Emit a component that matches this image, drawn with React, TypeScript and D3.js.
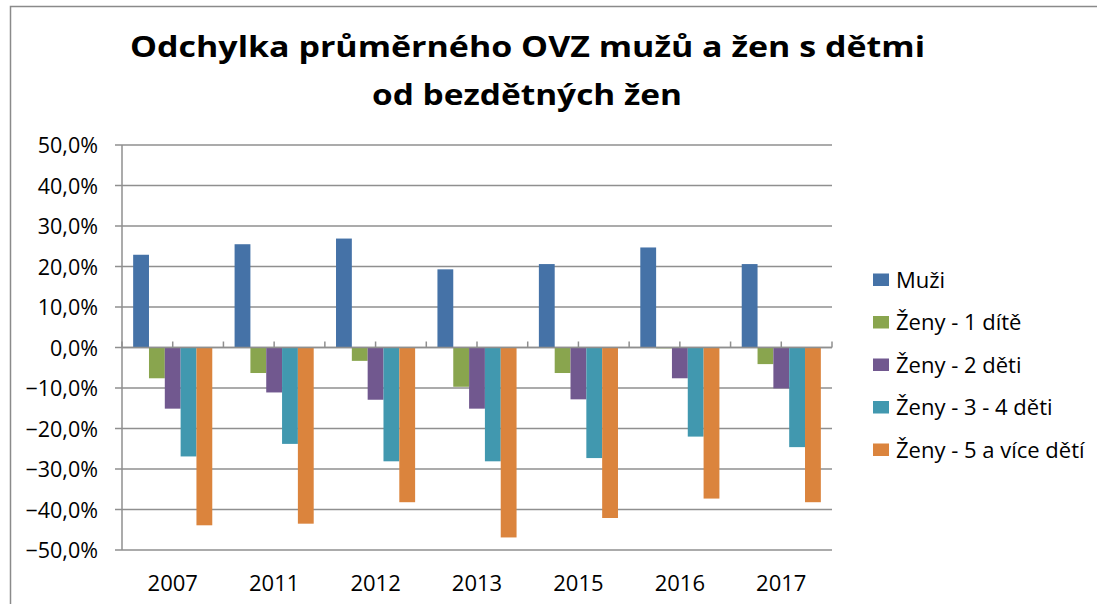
import React from "react";
import * as d3 from "d3";

const years = ["2007", "2011", "2012", "2013", "2015", "2016", "2017"];
const seriesNames = [
  "Muži",
  "Ženy - 1 dítě",
  "Ženy - 2 děti",
  "Ženy - 3 - 4 děti",
  "Ženy - 5 a více dětí",
];
const muzi = [22.9, 25.5, 26.9, 19.3, 20.6, 24.7, 20.6];
const zeny1 = [-7.6, -6.3, -3.3, -9.7, -6.3, -0.2, -4.1];
const zeny2 = [-15.1, -11.1, -12.9, -15.1, -12.8, -7.6, -10.1];
const zeny34 = [-26.9, -23.8, -28.1, -28.1, -27.3, -22.0, -24.6];
const zeny5 = [-43.9, -43.5, -38.2, -46.9, -42.1, -37.3, -38.2];
const yTicks = [50, 40, 30, 20, 10, 0, -10, -20, -30, -40, -50];
const colors = ["#4572A7", "#89A54E", "#71588F", "#4198AF", "#DB843D"];
const titleLines = ["Odchylka  průměrného  OVZ mužů  a žen s dětmi", "od bezdětných žen"];

const FONT = "'Open Sans', Lato, sans-serif";

export default function App() {
  const W = 1097;
  const H = 604;
  const left = 122;
  const right = 832;
  const top = 145;
  const bottom = 550;
  const seriesValues = [muzi, zeny1, zeny2, zeny34, zeny5];

  const y = d3.scaleLinear().domain([-50, 50]).range([bottom, top]);
  const x0 = d3.scaleBand<string>().domain(years).range([left, right]).paddingInner(0).paddingOuter(0);
  const bw = x0.bandwidth();
  const groupW = bw * 0.78;
  const x1 = d3
    .scaleBand<string>()
    .domain(seriesNames)
    .range([(bw - groupW) / 2, (bw + groupW) / 2])
    .padding(0);

  const gridColor = "#8f8f8f";
  const halfTicks = d3.range(0, years.length * 2 + 1).map((i) => left + (i * bw) / 2);

  return (
    <svg width={W} height={H} style={{ display: "block", position: "absolute", left: 0, top: 0 }}>
      <rect x={0} y={0} width={W} height={H} fill="#fff" />
      <rect x={10.5} y={6.5} width={W + 20} height={H + 20} fill="none" stroke="#8a8a8a" strokeWidth={1.5} />
      {/* title */}
      <text x={130} y={57} fontFamily={FONT} fontWeight={700} fontSize={28} textLength={795} lengthAdjust="spacingAndGlyphs" fill="#000">
        {titleLines[0]}
      </text>
      <text x={372} y={105} fontFamily={FONT} fontWeight={700} fontSize={28} textLength={310} lengthAdjust="spacingAndGlyphs" fill="#000">
        {titleLines[1]}
      </text>
      {/* gridlines */}
      {yTicks.map((t) => (
        <g key={t}>
          <line x1={left - 7} x2={right} y1={y(t)} y2={y(t)} stroke={gridColor} strokeWidth={1.5} />
          <text x={98} y={y(t) + 8} textAnchor="end" fontFamily={FONT} fontSize={21.5} fill="#000">
            {d3.format(".1f")(t).replace(".", ",") + "%"}
          </text>
        </g>
      ))}
      {/* y axis */}
      <line x1={left} x2={left} y1={top} y2={bottom} stroke={gridColor} strokeWidth={1.5} />
      {/* bars */}
      {seriesValues.map((vals, si) =>
        vals.map((v, i) => (
          <rect
            key={si + "-" + i}
            x={(x0(years[i]) as number) + (x1(seriesNames[si]) as number)}
            y={y(Math.max(0, v))}
            width={x1.bandwidth()}
            height={Math.abs(y(v) - y(0))}
            fill={colors[si]}
          />
        ))
      )}
      {/* x axis at zero */}
      <line x1={left} x2={right} y1={y(0)} y2={y(0)} stroke={gridColor} strokeWidth={1.5} />
      {halfTicks.map((tx, i) => (
        <line key={i} x1={tx} x2={tx} y1={y(0)} y2={y(0) - 6} stroke={gridColor} strokeWidth={1.5} />
      ))}
      {/* x labels */}
      {years.map((yr) => (
        <text key={yr} x={(x0(yr) as number) + bw / 2} y={590.5} textAnchor="middle" fontFamily={FONT} fontSize={22} fill="#000">
          {yr}
        </text>
      ))}
      {/* legend */}
      {seriesNames.map((n, i) => (
        <g key={n} transform={`translate(873, ${273.5 + i * 42.5})`}>
          <rect x={0} y={0} width={16} height={12.5} fill={colors[i]} />
          <text x={23} y={14} fontFamily={FONT} fontSize={22} fill="#000">
            {n}
          </text>
        </g>
      ))}
    </svg>
  );
}
